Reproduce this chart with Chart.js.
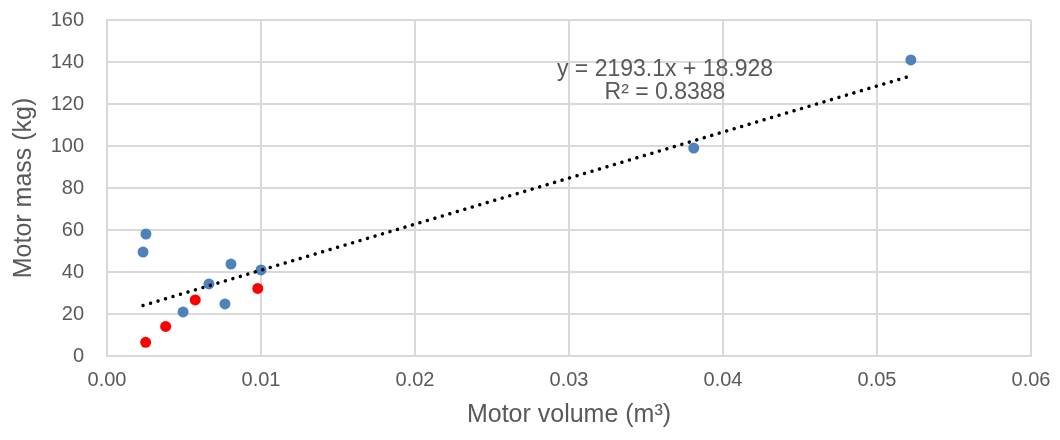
<!DOCTYPE html>
<html>
<head>
<meta charset="utf-8">
<script src="https://cdn.jsdelivr.net/npm/chart.js@4"></script>
<style>
  html, body { margin: 0; padding: 0; background: #ffffff; }
  #wrap { width: 1060px; height: 440px; position: relative; }
</style>
</head>
<body>
<div id="wrap"><canvas id="c" width="1060" height="440"></canvas></div>
<script>
// ---- data ----
const blueVolume = [0.00253, 0.00234, 0.00662, 0.00805, 0.0100, 0.00494, 0.00766, 0.0381, 0.0522];
const blueMass   = [58.1, 49.5, 34.3, 43.8, 41.0, 21.0, 24.8, 99.0, 141.0];
const redVolume  = [0.00251, 0.00381, 0.00573, 0.00979];
const redMass    = [6.5, 14.1, 26.7, 32.2];
const trendSlope = 2193.1;
const trendIntercept = 18.928;
const trendR2 = 0.8388;
const xTicks = [0, 0.01, 0.02, 0.03, 0.04, 0.05, 0.06];
const yTicks = [0, 20, 40, 60, 80, 100, 120, 140, 160];

const toPts = (xs, ys) => xs.map((x, i) => ({ x: x, y: ys[i] }));
const allX = blueVolume.concat(redVolume);
const xMin = Math.min.apply(null, allX), xMax = Math.max.apply(null, allX);
const trendPts = [
  { x: xMin, y: trendSlope * xMin + trendIntercept },
  { x: xMax, y: trendSlope * xMax + trendIntercept }
];

const TXT = '#595959';
const FONT = "'Liberation Sans', Arial, Helvetica, sans-serif";

const eqPlugin = {
  id: 'eqLabel',
  afterDatasetsDraw(chart) {
    const ctx = chart.ctx;
    ctx.save();
    ctx.fillStyle = TXT;
    ctx.font = '23px ' + FONT;
    ctx.textAlign = 'center';
    ctx.textBaseline = 'middle';
    ctx.fillText('y = ' + trendSlope + 'x + ' + trendIntercept, 665, 70);
    ctx.fillText('R\u00B2 = ' + trendR2, 665, 93);
    ctx.restore();
  }
};

new Chart(document.getElementById('c'), {
  type: 'scatter',
  data: {
    datasets: [
      {
        label: 'Trend',
        type: 'line',
        data: trendPts,
        borderColor: '#000000',
        borderWidth: 3.5,
        borderDash: [0.01, 7.8],
        borderCapStyle: 'round',
        pointRadius: 0,
        fill: false,
        order: 0
      },
      {
        label: 'Series 1',
        data: toPts(blueVolume, blueMass),
        backgroundColor: '#4f81bd',
        borderColor: '#4f81bd',
        pointRadius: 5.5,
        pointBorderWidth: 0,
        order: 1
      },
      {
        label: 'Series 2',
        data: toPts(redVolume, redMass),
        backgroundColor: '#ff0000',
        borderColor: '#ff0000',
        pointRadius: 5.5,
        pointBorderWidth: 0,
        order: 1
      }
    ]
  },
  options: {
    responsive: false,
    animation: false,
    events: [],
    layout: { padding: { top: 20, right: 29, left: 0, bottom: 0 } },
    plugins: { legend: { display: false }, tooltip: { enabled: false } },
    scales: {
      x: {
        type: 'linear',
        min: 0, max: 0.06,
        afterBuildTicks(s) { s.ticks = xTicks.map(v => ({ value: v })); },
        afterFit(s) { s.height = 84; },
        grid: { color: '#d9d9d9', lineWidth: 2, drawTicks: true, tickLength: 12, tickColor: 'rgba(0,0,0,0)' },
        border: { color: '#d9d9d9', width: 2 },
        ticks: {
          padding: 0,
          color: TXT,
          font: { family: FONT, size: 20 },
          callback: v => Number(v).toFixed(2)
        },
        title: {
          display: true,
          text: 'Motor volume (m\u00B3)',
          color: TXT,
          font: { family: FONT, size: 25 },
          padding: { top: 0, bottom: 10 }
        }
      },
      y: {
        min: 0, max: 160,
        afterBuildTicks(s) { s.ticks = yTicks.map(v => ({ value: v })); },
        afterFit(s) { s.width = 107; },
        grid: { color: '#d9d9d9', lineWidth: 2, drawTicks: true, tickLength: 23, tickColor: 'rgba(0,0,0,0)' },
        border: { color: '#d9d9d9', width: 2 },
        ticks: {
          padding: 0,
          color: TXT,
          font: { family: FONT, size: 20 },
          callback: v => String(v)
        },
        title: {
          display: true,
          text: 'Motor mass (kg)',
          color: TXT,
          font: { family: FONT, size: 25 },
          padding: { top: 9, bottom: 0 }
        }
      }
    }
  },
  plugins: [eqPlugin]
});
</script>
</body>
</html>
